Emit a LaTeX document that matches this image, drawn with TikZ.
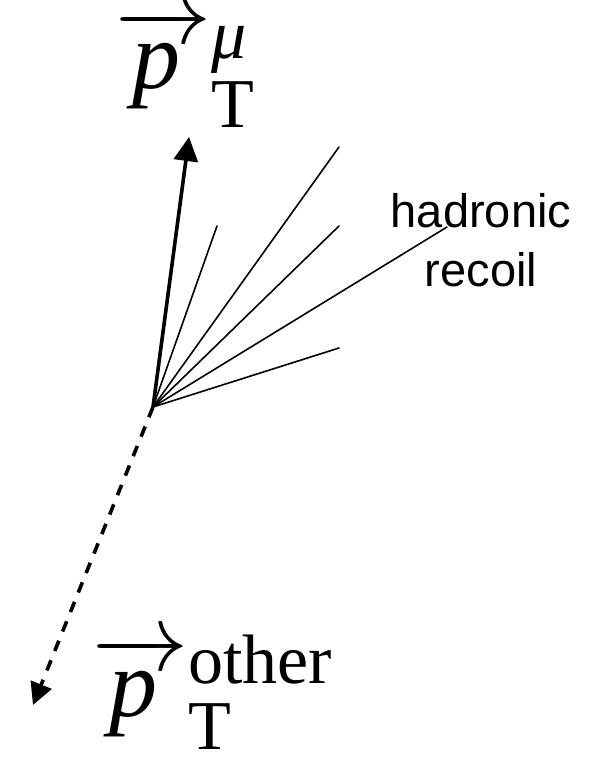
\RequirePackage{fix-cm}
\documentclass[tikz,border=0pt]{standalone}
\usepackage{amsmath}
\usepackage{fontspec}
\setmainfont{Liberation Serif}
\newfontfamily\labelsans{Liberation Sans}
\usetikzlibrary{arrows.meta,calc}
\tikzset{
  jet/.style={line width=1.6pt,line cap=round},
  muon/.style={-{Triangle[length=24pt,width=24pt]},line width=3.6pt},
  other/.style={-{Triangle[length=22pt,width=22pt]},line width=3.6pt,
    dash pattern=on 11pt off 10pt},
  vlabel/.style={font=\fontsize{96}{110}\selectfont,inner sep=0pt,anchor=base west},
  tlabel/.style={font=\labelsans\fontsize{47}{59}\selectfont,align=center,inner sep=0pt},
}
% arrowed p, then raised and lowered scripts
\newcommand{\vecp}{$\overrightarrow{\kern0.1em\textit{p}\kern0.24em}$}
\newcommand{\pscripts}[3]{\fontsize{70}{80}\selectfont%
  \rlap{\raisebox{#2}{#1}}\raisebox{-#3}{T}}

\begin{document}
\begin{tikzpicture}[x=1pt,y=-1pt]
\useasboundingbox (0,0) rectangle (602,759);
\coordinate (vtx) at (153,407);
% hadronic recoil
\coordinate (j1) at (217,226);
\coordinate (j2) at (339,147);
\coordinate (j3) at (339,226);
\coordinate (j4) at (447,227);
\coordinate (j5) at (339,348);
\foreach \j in {j1,j2,j3,j4,j5}
  \draw[jet] (vtx) -- (\j);
\node[tlabel] (recoil) at (481,240) {hadronic\\recoil};
% muon and the rest
\coordinate (mutip) at (189,137);
\coordinate (othtip) at (33,705);
\draw[muon] (vtx) -- (mutip);
\draw[other] (vtx) -- (othtip);
\node[vlabel] (pmu) at (115,89) {\vecp\pscripts{\textit{μ}}{30pt}{39pt}};
\node[vlabel] (poth) at (92,716) {\vecp\pscripts{other}{33pt}{33pt}};
\end{tikzpicture}
\end{document}
